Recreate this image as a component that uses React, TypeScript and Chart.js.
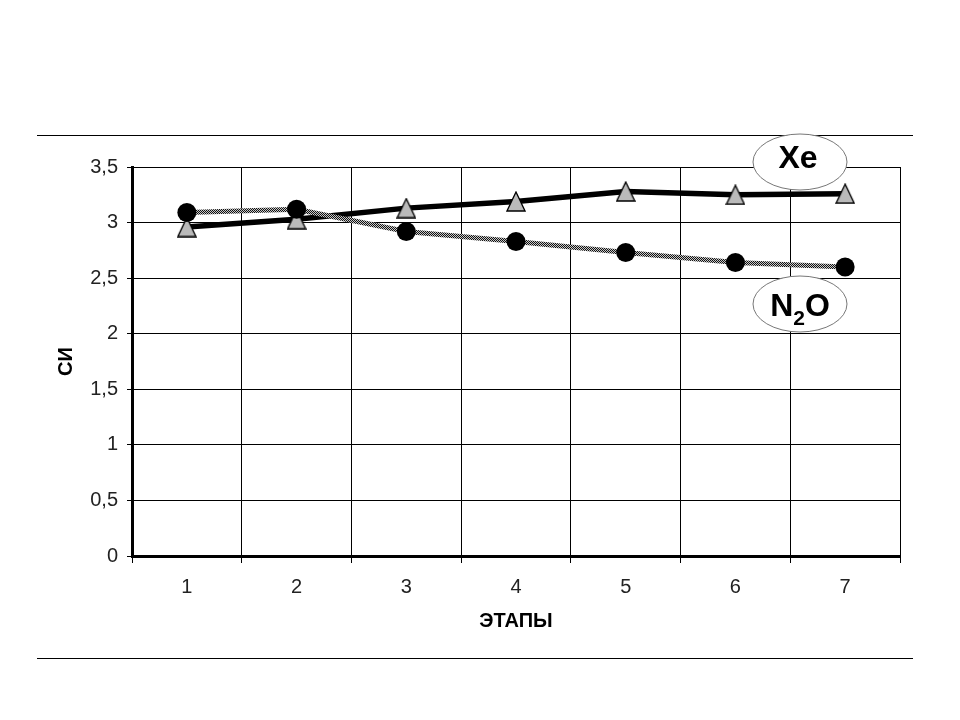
import React, { useEffect, useRef } from "react";
import { Chart, registerables } from "chart.js";

Chart.register(...registerables);

const stages = ["1", "2", "3", "4", "5", "6", "7"];
const xeValues = [2.96, 3.03, 3.13, 3.19, 3.28, 3.25, 3.26];
const n2oValues = [3.09, 3.12, 2.92, 2.83, 2.73, 2.64, 2.6];
const yMin = 0;
const yMax = 3.5;
const yStep = 0.5;
const xTitle = "ЭТАПЫ";
const yTitle = "СИ";
const FONT = '"Liberation Sans", Arial, sans-serif';

function makeTriangle(): HTMLCanvasElement {
  const c = document.createElement("canvas");
  c.width = 20;
  c.height = 21;
  const g = c.getContext("2d")!;
  g.beginPath();
  g.moveTo(10, 1);
  g.lineTo(19, 20);
  g.lineTo(1, 20);
  g.closePath();
  g.fillStyle = "#bababa";
  g.fill();
  g.lineWidth = 1.3;
  g.strokeStyle = "#000";
  g.stroke();
  return c;
}

function makeDither(): CanvasPattern | string {
  const c = document.createElement("canvas");
  c.width = 2;
  c.height = 2;
  const g = c.getContext("2d")!;
  g.fillStyle = "#c8c8c8";
  g.fillRect(0, 0, 2, 2);
  g.fillStyle = "#111";
  g.fillRect(0, 0, 1, 1);
  g.fillRect(1, 1, 1, 1);
  const p = document.createElement("canvas").getContext("2d")!.createPattern(c, "repeat");
  return p || "#777";
}

const decorPlugin = {
  id: "decor",
  afterDraw(chart: any) {
    const ctx = chart.ctx as CanvasRenderingContext2D;
    const area = chart.chartArea;
    ctx.save();
    // page rules
    ctx.strokeStyle = "#000";
    ctx.lineWidth = 1;
    ctx.beginPath();
    ctx.moveTo(37, 135.5);
    ctx.lineTo(913, 135.5);
    ctx.moveTo(37, 658.5);
    ctx.lineTo(913, 658.5);
    ctx.stroke();

    const cx = area.right - 100;
    const drawEllipse = (cy: number) => {
      ctx.beginPath();
      ctx.ellipse(cx, cy, 47, 28, 0, 0, Math.PI * 2);
      ctx.fillStyle = "#fff";
      ctx.fill();
      ctx.lineWidth = 1;
      ctx.strokeStyle = "#777";
      ctx.stroke();
    };
    // Xe
    const xeY = area.top - 5;
    drawEllipse(xeY);
    ctx.fillStyle = "#000";
    ctx.font = `bold 32px ${FONT}`;
    ctx.textAlign = "center";
    ctx.textBaseline = "alphabetic";
    ctx.fillText("Xe", cx - 2, xeY + 6);
    // N2O
    const nY = area.top + 137;
    drawEllipse(nY);
    ctx.fillStyle = "#000";
    ctx.textAlign = "left";
    ctx.font = `bold 32px ${FONT}`;
    const wN = ctx.measureText("N").width;
    const wO = ctx.measureText("O").width;
    ctx.font = `bold 21px ${FONT}`;
    const w2 = ctx.measureText("2").width;
    const total = wN + w2 + wO;
    let x = cx - total / 2;
    const base = nY + 12;
    ctx.font = `bold 32px ${FONT}`;
    ctx.fillText("N", x, base);
    x += wN;
    ctx.font = `bold 21px ${FONT}`;
    ctx.fillText("2", x, base + 9);
    x += w2;
    ctx.font = `bold 32px ${FONT}`;
    ctx.fillText("O", x, base);
    ctx.restore();
  },
};

export default function App() {
  const ref = useRef<HTMLCanvasElement>(null);
  useEffect(() => {
    if (!ref.current) return;
    const tri = makeTriangle();
    const dither = makeDither();
    const chart = new Chart(ref.current, {
      type: "line",
      data: {
        labels: stages,
        datasets: [
          {
            label: "Xe",
            data: xeValues,
            borderColor: "#000",
            borderWidth: 5.5,
            pointStyle: tri as any,
            pointRadius: 10,
            order: 2,
            tension: 0,
          },
          {
            label: "N2O",
            data: n2oValues,
            borderColor: dither as any,
            borderWidth: 5,
            pointStyle: "circle",
            pointRadius: 9.5,
            pointBackgroundColor: "#000",
            pointBorderColor: "#000",
            pointBorderWidth: 0,
            order: 1,
            tension: 0,
          },
        ],
      },
      options: {
        responsive: false,
        animation: false,
        layout: { padding: { top: 167, right: 60, left: 0, bottom: 80 } },
        plugins: { legend: { display: false }, tooltip: { enabled: false } },
        scales: {
          x: {
            type: "category",
            offset: true,
            grid: { offset: true, color: "#000", lineWidth: 1, tickLength: 7 },
            border: { color: "#000", width: 3 },
            ticks: { color: "#222", font: { family: FONT, size: 20 }, padding: 12 },
            title: {
              display: true,
              text: xTitle,
              color: "#000",
              font: { family: FONT, size: 20, weight: "bold" },
              padding: { top: 0, bottom: 7 },
            },
            afterFit: (s: any) => {
              s.height = 84;
            },
          },
          y: {
            min: yMin,
            max: yMax,
            grid: { color: "#000", lineWidth: 1, tickLength: 5 },
            border: { color: "#000", width: 3 },
            ticks: {
              stepSize: yStep,
              color: "#222",
              font: { family: FONT, size: 20 },
              padding: 9,
              callback: (v: any) => String(v).replace(".", ","),
            },
            title: {
              display: true,
              text: yTitle,
              color: "#000",
              font: { family: FONT, size: 20, weight: "bold" },
              padding: { top: 54, bottom: 0 },
            },
            afterFit: (s: any) => {
              s.width = 132;
            },
          },
        },
      },
      plugins: [decorPlugin],
    });
    return () => chart.destroy();
  }, []);
  return (
    <div style={{ position: "absolute", left: 0, top: 0, width: 960, height: 720, background: "#fff" }}>
      <canvas ref={ref} width={960} height={720} />
    </div>
  );
}
